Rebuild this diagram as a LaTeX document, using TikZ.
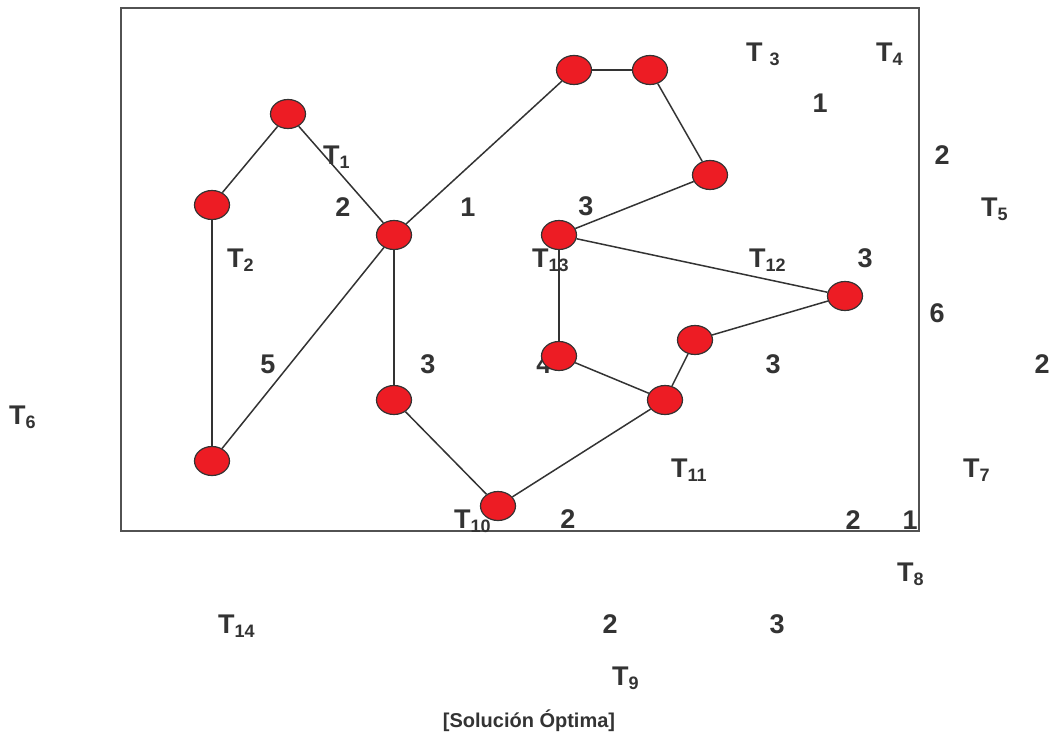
\documentclass[tikz,border=0pt]{standalone}
\usepackage{fontspec}
\setmainfont{Liberation Sans}
\usetikzlibrary{shapes.geometric}
\definecolor{nodered}{HTML}{ED1C24}
\definecolor{ink}{HTML}{333333}
\newcommand{\subfont}{\fontsize{18}{18}\selectfont}
\newcommand{\Tsub}[1]{T\raisebox{-4pt}{\subfont #1}}

\begin{document}
\begin{tikzpicture}[x=1pt,y=-1pt,
  vertex/.style={ellipse,draw=ink,fill=nodered,line width=1.2pt,minimum width=35pt,minimum height=29pt,inner sep=0pt},
  tlab/.style={anchor=base west,inner sep=0pt,text=ink,font=\bfseries\fontsize{27}{27}\selectfont},
  wlab/.style={anchor=base,inner sep=0pt,text=ink,font=\bfseries\fontsize{27}{27}\selectfont},
  link/.style={draw=ink,line width=1.5pt}
]
\useasboundingbox (0,0) rectangle (1057,735);
\draw[draw=ink!85,line width=1.8pt] (121,8) rectangle (919,531);

% territory labels
\node[tlab] (t1) at (323,165) {\Tsub{1}};
\node[tlab] (t2) at (227,268) {\Tsub{2}};
\node[tlab] (t3) at (746,62) {T\hspace{7pt}\raisebox{-4pt}{\subfont 3}};
\node[tlab] (t4) at (876,62) {\Tsub{4}};
\node[tlab] (t5) at (981,217) {\Tsub{5}};
\node[tlab] (t6) at (9,424) {\Tsub{6}};
\node[tlab] (t7) at (963,477) {\Tsub{7}};
\node[tlab] (t8) at (897,581) {\Tsub{8}};
\node[tlab] (t9) at (612,685) {\Tsub{9}};
\node[tlab] (t10) at (454,528) {\Tsub{10}};
\node[tlab] (t11) at (671,477) {\Tsub{11}};
\node[tlab] (t12) at (749,268) {\Tsub{12}};
\node[tlab] (t13) at (532,268) {\Tsub{13}};
\node[tlab] (t14) at (218,633) {\Tsub{14}};

% weights
\node[wlab] (w1) at (343,217) {2};
\node[wlab] (w2) at (468,217) {1};
\node[wlab] (w3) at (586,216) {3};
\node[wlab] (w4) at (820,113) {1};
\node[wlab] (w5) at (942,165) {2};
\node[wlab] (w6) at (865,268) {3};
\node[wlab] (w7) at (937,322) {6};
\node[wlab] (w8) at (1042,373) {2};
\node[wlab] (w9) at (268,373) {5};
\node[wlab] (w10) at (428,373) {3};
\node[wlab] (w11) at (544,373) {4};
\node[wlab] (w12) at (773,373) {3};
\node[wlab] (w13) at (568,528) {2};
\node[wlab] (w14) at (853,529) {2};
\node[wlab] (w15) at (910,529) {1};
\node[wlab] (w16) at (610,633) {2};
\node[wlab] (w17) at (777,633) {3};

% vertices
\node[vertex] (va) at (288,114) {};
\node[vertex] (vb) at (212,205) {};
\node[vertex] (vc) at (394,235) {};
\node[vertex] (vd) at (212,461) {};
\node[vertex] (ve) at (394,400) {};
\node[vertex] (vf) at (574,70) {};
\node[vertex] (vg) at (650,70) {};
\node[vertex] (vh) at (710,175) {};
\node[vertex] (vi) at (559,235) {};
\node[vertex] (vj) at (559,356) {};
\node[vertex] (vk) at (695,340) {};
\node[vertex] (vl) at (665,400) {};
\node[vertex] (vm) at (845,296) {};
\node[vertex] (vn) at (498,506) {};

% tree edges
\draw[link] (va)--(vb);
\draw[link] (va)--(vc);
\draw[link] (vb)--(vd);
\draw[link] (vc)--(vd);
\draw[link] (vc)--(ve);
\draw[link] (vc)--(vf);
\draw[link] (vf)--(vg);
\draw[link] (vg)--(vh);
\draw[link] (vh)--(vi);
\draw[link] (vi)--(vm);
\draw[link] (vi)--(vj);
\draw[link] (vj)--(vl);
\draw[link] (vl)--(vk);
\draw[link] (vk)--(vm);
\draw[link] (ve)--(vn);
\draw[link] (vn)--(vl);

\node[anchor=base,inner sep=0pt,text=ink,font=\bfseries\fontsize{20}{20}\selectfont] (cap) at (529,727) {[Solución Óptima]};
\end{tikzpicture}
\end{document}
